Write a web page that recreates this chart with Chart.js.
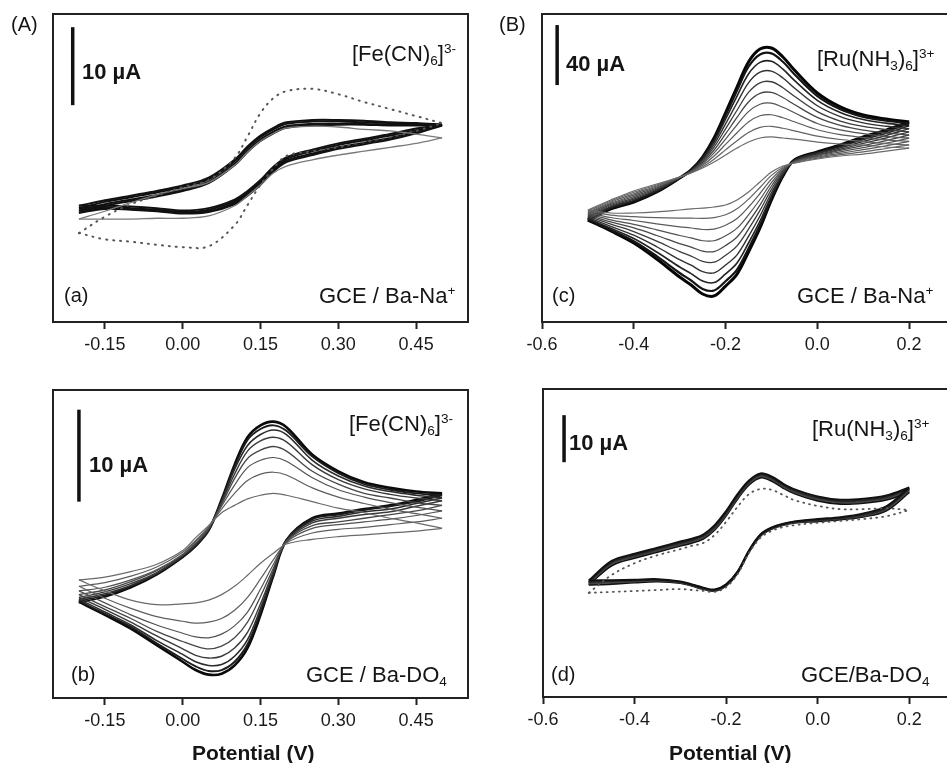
<!DOCTYPE html>
<html><head><meta charset="utf-8">
<script src="https://cdn.jsdelivr.net/npm/chart.js@4.4.1/dist/chart.umd.min.js"></script>
<style>
html,body{margin:0;padding:0;background:#fff;overflow:hidden;width:947px;height:763px;}
#wrap{position:relative;width:947px;height:763px;overflow:hidden;}
.cv{position:absolute;}
.t{position:absolute;white-space:nowrap;line-height:1;font-family:"Liberation Sans",Arial,sans-serif;color:#151515;}
.b{font-weight:bold;}
.sub{position:relative;top:0.28em;font-size:0.62em;}
.sup{position:relative;top:-0.62em;font-size:0.62em;}
</style></head><body><div id="wrap">
<div class="cv" style="left:0;top:0"><canvas id="cA" width="480" height="370"></canvas></div>
<div class="cv" style="left:0;top:376px"><canvas id="cB" width="480" height="370"></canvas></div>
<div class="cv" style="left:480px;top:0"><canvas id="cC" width="480" height="370"></canvas></div>
<div class="cv" style="left:480px;top:375px"><canvas id="cD" width="480" height="370"></canvas></div>

<div class="t" style="left:11px;top:14px;font-size:20px">(A)</div>
<div class="t" style="left:499px;top:14px;font-size:20px">(B)</div>

<div class="t b" style="left:82px;top:61px;font-size:22px">10 µA</div>
<div class="t" style="left:352px;top:43px;font-size:22px">[Fe(CN)<span class="sub">6</span>]<span class="sup">3-</span></div>
<div class="t" style="left:64px;top:285px;font-size:20px">(a)</div>
<div class="t" style="left:319px;top:285px;font-size:22px">GCE / Ba-Na<span class="sup">+</span></div>

<div class="t b" style="left:89px;top:454px;font-size:22px">10 µA</div>
<div class="t" style="left:349px;top:413px;font-size:22px">[Fe(CN)<span class="sub">6</span>]<span class="sup">3-</span></div>
<div class="t" style="left:71px;top:664px;font-size:20px">(b)</div>
<div class="t" style="left:306px;top:664px;font-size:22px">GCE / Ba-DO<span class="sub">4</span></div>

<div class="t b" style="left:566px;top:53px;font-size:22px">40 µA</div>
<div class="t" style="left:817px;top:48px;font-size:22px">[Ru(NH<span class="sub">3</span>)<span class="sub">6</span>]<span class="sup">3+</span></div>
<div class="t" style="left:552px;top:285px;font-size:20px">(c)</div>
<div class="t" style="left:797px;top:285px;font-size:22px">GCE / Ba-Na<span class="sup">+</span></div>

<div class="t b" style="left:569px;top:432px;font-size:22px">10 µA</div>
<div class="t" style="left:812px;top:418px;font-size:22px">[Ru(NH<span class="sub">3</span>)<span class="sub">6</span>]<span class="sup">3+</span></div>
<div class="t" style="left:551px;top:664px;font-size:20px">(d)</div>
<div class="t" style="left:801px;top:664px;font-size:22px">GCE/Ba-DO<span class="sub">4</span></div>

<div class="t b" style="left:192px;top:742px;font-size:21px">Potential (V)</div>
<div class="t b" style="left:669px;top:742px;font-size:21px">Potential (V)</div>
</div>
<script>
// ---------- tick labels ----------
const ticksFe = [-0.15, 0, 0.15, 0.30, 0.45];
const ticksRu = [-0.6, -0.4, -0.2, 0.0, 0.2];

// ---------- panel (a): GCE / Ba-Na+, Fe(CN)6 3- (current in µA) ----------
const potA = [-0.2, -0.15, -0.1, -0.05, 0, 0.05, 0.1, 0.125, 0.15, 0.175, 0.2, 0.25, 0.3, 0.35, 0.4, 0.45, 0.5];
const aBundleUp = [
  [-5.1, -4.4, -3.8, -3.2, -2.5, -1.5, 0.8, 2.5, 3.9, 4.9, 5.6, 5.9, 5.9, 5.8, 5.6, 5.5, 5.3],
  [-5.4, -4.6, -4.0, -3.4, -2.7, -1.7, 0.6, 2.3, 3.7, 4.7, 5.4, 5.7, 5.7, 5.6, 5.5, 5.4, 5.3],
  [-5.7, -4.9, -4.3, -3.7, -3.0, -2.0, 0.3, 2.0, 3.4, 4.4, 5.1, 5.4, 5.4, 5.4, 5.3, 5.3, 5.3],
  [-6.0, -5.1, -4.5, -3.9, -3.2, -2.2, 0.1, 1.8, 3.2, 4.2, 4.9, 5.2, 5.3, 5.3, 5.2, 5.2, 5.2]
];
const aBundleLow = [
  [-5.1, -5.1, -5.2, -5.4, -5.7, -5.4, -4.3, -3.2, -1.8, -0.1, 1.1, 2.1, 2.9, 3.5, 4.1, 4.8, 5.3],
  [-5.4, -5.3, -5.4, -5.6, -5.9, -5.6, -4.5, -3.4, -2.0, -0.3, 0.9, 1.9, 2.7, 3.3, 3.9, 4.6, 5.3],
  [-5.7, -5.4, -5.5, -5.7, -6.0, -5.8, -4.7, -3.6, -2.2, -0.5, 0.7, 1.6, 2.4, 3.0, 3.6, 4.4, 5.3],
  [-6.0, -5.5, -5.6, -5.8, -6.1, -5.9, -4.9, -3.8, -2.4, -0.7, 0.5, 1.4, 2.2, 2.8, 3.4, 4.2, 5.2]
];
const aFirstUp  = [-6.8, -5.8, -4.7, -3.7, -2.9, -2.1, 0.1, 1.8, 3.2, 4.2, 4.9, 5.1, 5.0, 4.7, 4.5, 4.1, 3.6];
const aFirstLow = [-6.8, -6.8, -6.8, -6.7, -6.7, -6.4, -5.1, -3.8, -2.4, -0.9, 0.0, 0.8, 1.4, 1.9, 2.4, 2.9, 3.6];
const aBareUp   = [-8.6, -6.5, -4.9, -3.8, -2.7, -1.8, 1.0, 3.8, 6.8, 8.7, 9.6, 9.9, 9.2, 8.2, 7.3, 6.4, 5.5];
const aBareLow  = [-8.6, -9.4, -9.7, -10.1, -10.4, -10.3, -7.6, -5.0, -2.4, -0.3, 1.3, 1.9, 2.4, 3.1, 3.7, 4.5, 5.5];

// ---------- panel (b): GCE / Ba-DO4, Fe(CN)6 3- ----------
const potB = [-0.2, -0.15, -0.1, -0.05, 0, 0.025, 0.05, 0.075, 0.1, 0.125, 0.15, 0.175, 0.2, 0.25, 0.3, 0.35, 0.4, 0.45, 0.5];
const bUp = [
  [-3.9, -3.6, -3.0, -2.2, -0.7, 0.7, 2.0, 3.4, 4.2, 4.9, 5.3, 5.5, 5.3, 4.6, 3.9, 3.4, 2.8, 2.3, 1.7],
  [-4.6, -4.2, -3.5, -2.5, -0.9, 0.4, 1.9, 3.8, 5.5, 6.9, 7.6, 7.8, 7.5, 6.1, 5.1, 4.4, 3.8, 3.3, 2.8],
  [-5.1, -4.7, -3.9, -2.8, -1.1, 0.3, 1.8, 4.1, 6.4, 8.3, 9.1, 9.4, 9.0, 7.2, 5.9, 5.1, 4.5, 4.0, 3.6],
  [-5.5, -5.0, -4.1, -2.9, -1.2, 0.1, 1.7, 4.3, 7.1, 9.3, 10.2, 10.6, 10.1, 7.9, 6.5, 5.5, 5.0, 4.5, 4.2],
  [-5.8, -5.2, -4.3, -3.1, -1.2, 0.0, 1.6, 4.5, 7.6, 10.1, 11.2, 11.6, 11.1, 8.6, 7.0, 6.0, 5.4, 5.0, 4.7],
  [-6.0, -5.4, -4.5, -3.2, -1.3, -0.1, 1.6, 4.6, 8.1, 10.7, 11.9, 12.4, 11.9, 9.1, 7.4, 6.3, 5.7, 5.3, 5.0],
  [-6.2, -5.6, -4.6, -3.2, -1.4, -0.2, 1.5, 4.7, 8.4, 11.3, 12.5, 12.9, 12.3, 9.5, 7.7, 6.5, 5.9, 5.5, 5.3],
  [-6.3, -5.7, -4.7, -3.3, -1.4, -0.2, 1.5, 4.8, 8.6, 11.6, 12.9, 13.3, 12.7, 9.7, 7.9, 6.7, 6.1, 5.7, 5.5]
];
const bLow = [
  [-3.9, -5.1, -6.1, -6.6, -6.5, -6.4, -6.1, -5.5, -4.6, -3.4, -2.1, -1.0, 0.0, 0.5, 0.8, 1.0, 1.2, 1.4, 1.7],
  [-4.6, -5.9, -7.0, -7.9, -8.4, -8.6, -8.5, -8.1, -7.2, -5.8, -3.8, -1.7, 0.1, 1.2, 1.6, 1.8, 2.1, 2.4, 2.8],
  [-5.1, -6.4, -7.7, -8.8, -9.7, -10.1, -10.2, -9.8, -8.9, -7.4, -4.9, -2.2, 0.2, 1.7, 2.1, 2.4, 2.7, 3.1, 3.6],
  [-5.5, -6.8, -8.1, -9.5, -10.6, -11.1, -11.4, -11.1, -10.2, -8.5, -5.7, -2.6, 0.3, 2.0, 2.4, 2.8, 3.2, 3.6, 4.2],
  [-5.8, -7.1, -8.5, -10.0, -11.4, -12.1, -12.4, -12.2, -11.3, -9.6, -6.5, -2.9, 0.3, 2.3, 2.8, 3.2, 3.5, 4.1, 4.7],
  [-6.0, -7.4, -8.8, -10.5, -12.0, -12.8, -13.2, -13.1, -12.2, -10.4, -7.0, -3.1, 0.4, 2.5, 3.0, 3.5, 3.8, 4.4, 5.0],
  [-6.2, -7.6, -9.0, -10.8, -12.5, -13.3, -13.8, -13.7, -12.8, -10.9, -7.4, -3.3, 0.4, 2.7, 3.2, 3.7, 4.1, 4.6, 5.3],
  [-6.3, -7.7, -9.2, -11.0, -12.8, -13.7, -14.2, -14.1, -13.2, -11.3, -7.7, -3.4, 0.4, 2.8, 3.3, 3.8, 4.2, 4.8, 5.5]
];

// ---------- panel (c): GCE / Ba-Na+, Ru(NH3)6 3+ ----------
const potC = [-0.5, -0.45, -0.4, -0.35, -0.3, -0.275, -0.25, -0.225, -0.2, -0.175, -0.15, -0.125, -0.1, -0.075, -0.05, 0.0, 0.05, 0.1, 0.15, 0.2];
const cUp = [
  [-28.0, -21.3, -15.3, -10.7, -6.0, -3.3, 0.0, 4.0, 8.7, 13.3, 17.3, 20.0, 20.7, 20.0, 19.3, 17.3, 16.0, 15.3, 14.0, 13.3],
  [-28.8, -22.0, -16.2, -11.3, -6.1, -3.1, 0.9, 5.9, 12.1, 18.2, 23.7, 27.1, 27.8, 26.5, 24.8, 21.2, 19.0, 17.7, 16.2, 15.4],
  [-29.7, -22.8, -17.2, -12.0, -6.2, -2.8, 1.8, 8.0, 15.7, 23.5, 30.7, 34.8, 35.5, 33.5, 30.8, 25.5, 22.2, 20.3, 18.7, 17.7],
  [-30.5, -23.6, -18.1, -12.7, -6.3, -2.5, 2.8, 10.1, 19.3, 28.8, 37.6, 42.5, 43.2, 40.5, 36.8, 29.7, 25.4, 22.9, 21.1, 19.9],
  [-31.4, -24.3, -19.0, -13.4, -6.4, -2.3, 3.7, 12.0, 22.7, 33.7, 44.0, 49.7, 50.4, 47.0, 42.3, 33.7, 28.4, 25.3, 23.4, 22.0],
  [-32.2, -25.0, -19.9, -14.0, -6.4, -2.1, 4.5, 13.9, 26.1, 38.5, 50.4, 56.8, 57.5, 53.5, 47.8, 37.6, 31.3, 27.7, 25.6, 24.1],
  [-33.0, -25.7, -20.8, -14.6, -6.5, -1.8, 5.4, 15.8, 29.4, 43.4, 56.8, 63.9, 64.6, 60.0, 53.3, 41.5, 34.3, 30.1, 27.8, 26.2],
  [-33.7, -26.4, -21.6, -15.2, -6.6, -1.6, 6.2, 17.6, 32.5, 47.9, 62.7, 70.4, 71.1, 65.9, 58.4, 45.1, 37.0, 32.3, 29.9, 28.1],
  [-34.3, -26.9, -22.3, -15.7, -6.7, -1.4, 6.9, 19.0, 35.0, 51.6, 67.5, 75.7, 76.4, 70.8, 62.5, 48.0, 39.2, 34.1, 31.6, 29.7],
  [-34.7, -27.3, -22.7, -16.0, -6.7, -1.3, 7.3, 20.0, 36.7, 54.0, 70.7, 79.3, 80.0, 74.0, 65.3, 50.0, 40.7, 35.3, 32.7, 30.7]
];
const cLow = [
  [-28.0, -30.0, -30.0, -29.3, -28.0, -27.3, -26.7, -26.0, -24.7, -21.3, -16.0, -9.3, -2.7, 1.3, 3.3, 6.0, 8.0, 9.3, 11.3, 13.3],
  [-28.8, -31.4, -32.4, -33.1, -33.4, -33.4, -33.6, -33.1, -31.2, -27.2, -20.8, -13.0, -4.9, 0.5, 3.5, 6.6, 8.9, 10.7, 13.0, 15.4],
  [-29.7, -33.0, -35.0, -37.2, -39.2, -40.0, -41.0, -40.8, -38.2, -33.7, -26.0, -17.0, -7.4, -0.4, 3.8, 7.2, 9.8, 12.2, 14.8, 17.7],
  [-30.5, -34.6, -37.6, -41.2, -45.0, -46.6, -48.5, -48.5, -45.2, -40.1, -31.2, -21.0, -9.8, -1.2, 4.1, 7.8, 10.8, 13.6, 16.6, 19.9],
  [-31.4, -36.0, -40.0, -45.0, -50.4, -52.7, -55.4, -55.7, -51.7, -46.0, -36.0, -24.7, -12.0, -2.0, 4.3, 8.4, 11.7, 15.0, 18.3, 22.0],
  [-32.2, -37.4, -42.4, -48.8, -55.7, -58.7, -62.2, -62.8, -58.2, -51.9, -40.8, -28.3, -14.2, -2.8, 4.5, 8.9, 12.5, 16.4, 20.0, 24.1],
  [-33.0, -38.9, -44.8, -52.5, -61.1, -64.8, -69.1, -69.9, -64.7, -57.9, -45.6, -32.0, -16.5, -3.6, 4.8, 9.5, 13.4, 17.7, 21.7, 26.2],
  [-33.7, -40.2, -47.0, -56.0, -66.0, -70.4, -75.4, -76.4, -70.6, -63.3, -50.0, -35.4, -18.5, -4.3, 5.0, 10.0, 14.2, 19.0, 23.2, 28.1],
  [-34.3, -41.3, -48.8, -58.8, -70.0, -75.0, -80.6, -81.7, -75.5, -67.7, -53.6, -38.2, -20.2, -4.9, 5.2, 10.4, 14.9, 20.0, 24.5, 29.7],
  [-34.7, -42.0, -50.0, -60.7, -72.7, -78.0, -84.0, -85.3, -78.7, -70.7, -56.0, -40.0, -21.3, -5.3, 5.3, 10.7, 15.3, 20.7, 25.3, 30.7]
];

// ---------- panel (d): GCE/Ba-DO4, Ru(NH3)6 3+ ----------
const potD = potC;
const dBundleUp = [
  [-8.0, -3.8, -2.3, -1.0, 0.3, 0.9, 1.8, 3.8, 6.8, 10.4, 13.3, 14.8, 14.1, 12.6, 11.4, 9.9, 9.2, 9.4, 10.1, 11.8],
  [-8.3, -4.1, -2.6, -1.3, 0.0, 0.6, 1.5, 3.4, 6.4, 10.0, 13.0, 14.5, 13.8, 12.3, 11.1, 9.6, 8.9, 9.1, 9.8, 11.5],
  [-8.6, -4.4, -2.9, -1.6, -0.3, 0.3, 1.2, 3.1, 6.1, 9.7, 12.7, 14.2, 13.5, 12.0, 10.8, 9.3, 8.6, 8.8, 9.5, 11.2],
  [-8.9, -4.8, -3.2, -1.9, -0.6, 0.0, 0.9, 2.8, 5.8, 9.4, 12.4, 13.9, 13.2, 11.7, 10.5, 9.0, 8.3, 8.5, 9.2, 10.8]
];
const dBundleLow = [
  [-8.0, -7.9, -7.8, -7.7, -8.2, -8.8, -9.5, -9.9, -8.8, -6.1, -1.6, 1.8, 3.3, 4.1, 4.6, 5.1, 5.5, 6.3, 7.8, 11.8],
  [-8.3, -8.1, -8.0, -7.8, -8.3, -8.9, -9.6, -10.0, -8.9, -6.2, -1.7, 1.7, 3.2, 4.0, 4.5, 4.9, 5.3, 6.0, 7.5, 11.5],
  [-8.6, -8.4, -8.2, -8.0, -8.4, -9.0, -9.7, -10.1, -9.0, -6.3, -1.8, 1.6, 3.1, 3.9, 4.4, 4.8, 5.2, 5.8, 7.2, 11.2],
  [-8.9, -8.7, -8.4, -8.2, -8.5, -9.1, -9.8, -10.2, -9.1, -6.4, -1.9, 1.5, 3.0, 3.8, 4.3, 4.6, 5.0, 5.6, 6.9, 10.8]
];
const dBareUp  = [-10.6, -6.8, -4.3, -2.6, -1.3, -0.6, 0.0, 1.7, 4.5, 7.7, 10.4, 11.5, 11.3, 10.2, 9.1, 7.9, 7.2, 7.2, 7.4, 7.0];
const dBareLow = [-10.6, -10.4, -10.2, -10.0, -9.8, -10.0, -10.2, -10.4, -9.4, -6.6, -2.1, 1.1, 2.6, 3.4, 3.8, 4.3, 4.7, 5.1, 5.7, 7.0];

// ---------- scale bars: [potential, from µA, to µA] ----------
const barA = [-0.212, 7.8, 17.8];
const barB = [-0.200, 4.6, 14.6];
const barC = [-0.567, 55.3, 95.3];
const barD = [-0.554, 17.2, 27.2];

// ---------- helpers ----------
const FONT = '"Liberation Sans", Arial, sans-serif';
function branch(pot, ys, color, width, dash) {
  return { data: pot.map((x, i) => ({ x: x, y: ys[i] })), showLine: true, borderColor: color,
    borderWidth: width, pointRadius: 0, tension: 0.35, borderDash: dash || [], borderCapStyle: dash ? 'round' : 'butt', fill: false };
}
function loop(pot, up, low, color, width, dash) {
  return [branch(pot, up, color, width, dash), branch(pot, low, color, width, dash)];
}
function bar(b) {
  return { data: [{ x: b[0], y: b[1] }, { x: b[0], y: b[2] }], showLine: true, borderColor: '#111',
    borderWidth: 3.5, pointRadius: 0, tension: 0, fill: false };
}
const framePlugin = { id: 'frame', afterDatasetsDraw(chart) {
  const c = chart.ctx, a = chart.chartArea; c.save(); c.strokeStyle = '#222'; c.lineWidth = 2;
  c.strokeRect(a.left, a.top, a.right - a.left, a.bottom - a.top); c.restore(); } };

function make(id, datasets, xmin, xmax, ymin, ymax, ticks, dec, pad) {
  new Chart(document.getElementById(id), {
    type: 'scatter',
    data: { datasets: datasets },
    options: {
      responsive: false, animation: false, events: [],
      layout: { padding: pad },
      plugins: { legend: { display: false }, tooltip: { enabled: false } },
      scales: {
        x: { type: 'linear', min: xmin, max: xmax,
          afterBuildTicks: s => { s.ticks = ticks.map(v => ({ value: v })); },
          afterFit: s => { s.height = 48; },
          ticks: { font: { size: 18, family: FONT }, color: '#1a1a1a', padding: 5, maxRotation: 0,
            callback: v => Number(v).toFixed(dec) },
          grid: { display: true, drawOnChartArea: false, drawTicks: true, tickLength: 7, tickWidth: 2, tickColor: '#222' },
          border: { display: false } },
        y: { display: false, min: ymin, max: ymax }
      }
    },
    plugins: [framePlugin]
  });
}

// panel a
let dsA = [];
dsA = dsA.concat(loop(potA, aBareUp, aBareLow, '#555', 2, [1, 6]));
dsA = dsA.concat(loop(potA, aFirstUp, aFirstLow, '#7a7a7a', 1.3));
aBundleUp.forEach((u, k) => { dsA = dsA.concat(loop(potA, u, aBundleLow[k], '#111', 2)); });
dsA.push(bar(barA));
make('cA', dsA, -0.25, 0.55, -20.0, 19.49, ticksFe, 2, { left: 53, right: 12, top: 14, bottom: 0 });

// panel b
const bCol = ['#6a6a6a', '#5e5e5e', '#525252', '#464646', '#3a3a3a', '#2c2c2c', '#1c1c1c', '#0a0a0a'];
const bW = [1.2, 1.2, 1.2, 1.3, 1.4, 1.6, 1.9, 2.6];
let dsB = [];
bUp.forEach((u, k) => { dsB = dsB.concat(loop(potB, u, bLow[k], bCol[k], bW[k])); });
dsB.push(bar(barB));
make('cB', dsB, -0.25, 0.55, -16.74, 16.74, ticksFe, 2, { left: 53, right: 12, top: 14, bottom: 0 });

// panel c
const cCol = ['#6a6a6a', '#626262', '#5a5a5a', '#515151', '#474747', '#3c3c3c', '#303030', '#222', '#141414', '#050505'];
const cW = [1.2, 1.2, 1.2, 1.2, 1.3, 1.3, 1.4, 1.6, 2.2, 3.0];
let dsC = [];
cUp.forEach((u, k) => { dsC = dsC.concat(loop(potC, u, cLow[k], cCol[k], cW[k])); });
dsC.push(bar(barC));
make('cC', dsC, -0.6, 0.3, -102.67, 102.67, ticksRu, 1, { left: 62, right: 5, top: 14, bottom: 0 });

// panel d
let dsD = [];
dsD = dsD.concat(loop(potD, dBareUp, dBareLow, '#555', 1.8, [1, 5]));
const dCol = ['#111', '#2a2a2a', '#444', '#111'];
dBundleUp.forEach((u, k) => { dsD = dsD.concat(loop(potD, u, dBundleLow[k], dCol[k], 2)); });
dsD.push(bar(barD));
make('cD', dsD, -0.6, 0.3, -32.77, 32.77, ticksRu, 1, { left: 63, right: 5, top: 14, bottom: 0 });
</script>
</body></html>
